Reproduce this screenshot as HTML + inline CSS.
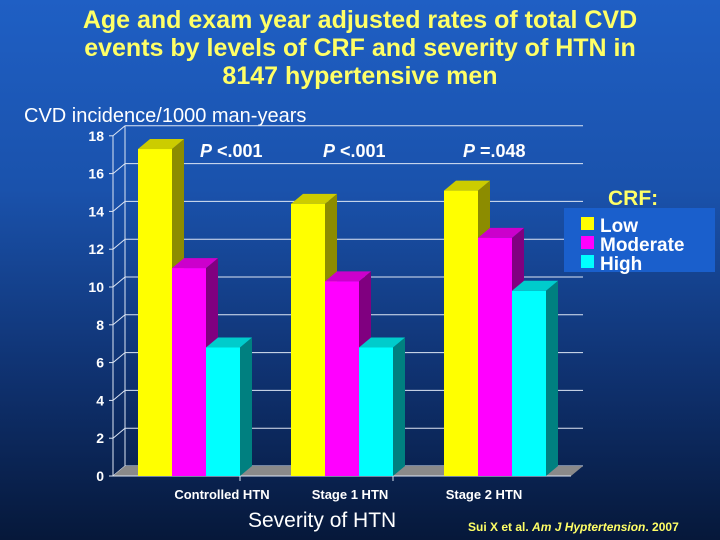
<!DOCTYPE html>
<html><head><meta charset="utf-8"><style>
html,body{margin:0;padding:0;width:720px;height:540px;overflow:hidden}
body{background:linear-gradient(to bottom,#1f5fc4 0%,#1a52ac 35%,#0f316f 70%,#06183a 100%);font-family:"Liberation Sans",Arial,sans-serif}
</style></head><body>
<svg id="s" width="720" height="540" xmlns="http://www.w3.org/2000/svg" style="position:absolute;left:0;top:0">
<g font-family="Liberation Sans, Arial, sans-serif" font-weight="bold" fill="#ffff66" font-size="25" text-anchor="middle">
<text x="360" y="28">Age and exam year adjusted rates of total CVD</text>
<text x="360" y="56">events by levels of CRF and severity of HTN in</text>
<text x="360" y="84">8147 hypertensive men</text>
</g>
<text x="24" y="122" font-family="Liberation Sans, Arial, sans-serif" font-size="20" fill="#fff">CVD incidence/1000 man-years</text>
<g id="grid"></g>
<g id="bars"></g>
<g font-family="Liberation Sans, Arial, sans-serif" font-weight="bold" font-size="14" fill="#fff" text-anchor="end" id="yl"></g>
<g font-family="Liberation Sans, Arial, sans-serif" font-weight="bold" font-size="18" fill="#fff">
<text x="200" y="157"><tspan font-style="italic">P</tspan> &lt;.001</text>
<text x="323" y="157"><tspan font-style="italic">P</tspan> &lt;.001</text>
<text x="463" y="157"><tspan font-style="italic">P</tspan> =.048</text>
</g>
<g font-family="Liberation Sans, Arial, sans-serif" font-weight="bold" font-size="13" fill="#fff" text-anchor="middle">
<text x="222" y="499">Controlled HTN</text>
<text x="350" y="499">Stage 1 HTN</text>
<text x="484" y="499">Stage 2 HTN</text>
</g>
<text x="248" y="527" font-family="Liberation Sans, Arial, sans-serif" font-size="21" fill="#fff">Severity of HTN</text>
<text x="608" y="205" font-family="Liberation Sans, Arial, sans-serif" font-size="21" fill="#ffff66" font-weight="bold">CRF:</text>
<rect x="564" y="208" width="151" height="64" fill="#1a5fcc"/>
<rect x="581" y="217" width="13" height="13" fill="#ffff00"/>
<rect x="581" y="236" width="13" height="13" fill="#ff00ff"/>
<rect x="581" y="255" width="13" height="13" fill="#00ffff"/>
<g font-family="Liberation Sans, Arial, sans-serif" font-weight="bold" font-size="19" fill="#fff">
<text x="600" y="232">Low</text><text x="600" y="251">Moderate</text><text x="600" y="270">High</text>
</g>
<text x="468" y="531" font-family="Liberation Sans, Arial, sans-serif" font-size="12" fill="#ffff66" font-weight="bold">Sui X et al. <tspan font-style="italic">Am J Hyptertension</tspan>. 2007</text>
</svg>
<script>
var NS="http://www.w3.org/2000/svg";
function el(p,t,a){var e=document.createElementNS(NS,t);for(var k in a)e.setAttribute(k,a[k]);document.getElementById(p).appendChild(e);return e;}
var x0=113,y0=476,u=18.9,dx=12,dy=10,xe=583;
for(var i=0;i<=9;i++){var y=y0-i*2*u;
 el("grid","line",{x1:x0,y1:y,x2:x0+dx,y2:y-dy,stroke:"#dde6f4","stroke-width":1});
 el("grid","line",{x1:x0+dx,y1:y-dy,x2:xe,y2:y-dy,stroke:"#dde6f4","stroke-width":1});
 el("grid","line",{x1:x0-4,y1:y,x2:x0,y2:y,stroke:"#dde6f4"});
 var t=el("yl","text",{x:x0-9,y:y+5});t.textContent=i*2;}
el("grid","line",{x1:x0,y1:y0,x2:x0,y2:y0-18*u,stroke:"#dde6f4"});
el("grid","line",{x1:x0+dx,y1:y0-dy,x2:x0+dx,y2:y0-18*u-dy,stroke:"#dde6f4"});
el("grid","polygon",{points:[x0,y0,x0+dx,y0-dy,xe,y0-dy,xe-dx,y0].join(" "),fill:"#8a8a8a"});
el("grid","line",{x1:x0,y1:y0,x2:xe-dx,y2:y0,stroke:"#dde6f4"});
[240,393].forEach(function(x){el("grid","line",{x1:x,y1:y0,x2:x,y2:y0+5,stroke:"#dde6f4"});});
var cols=[["#ffff00","#cccc00","#8c8c00"],["#ff00ff","#cc00cc","#800080"],["#00ffff","#00cccc","#008080"]];
var data=[[138,[17.3,11.0,6.8]],[291,[14.4,10.3,6.8]],[444,[15.1,12.6,9.8]]];
data.forEach(function(g){g[1].forEach(function(v,j){var x=g[0]+j*34,w=34,t=y0-v*u;
 el("bars","polygon",{points:[x+w,t,x+w+dx,t-dy,x+w+dx,y0-dy,x+w,y0].join(" "),fill:cols[j][2]});
 el("bars","polygon",{points:[x,t,x+dx,t-dy,x+w+dx,t-dy,x+w,t].join(" "),fill:cols[j][1]});
 el("bars","rect",{x:x,y:t,width:w,height:y0-t,fill:cols[j][0]});});});
</script>
</body></html>
